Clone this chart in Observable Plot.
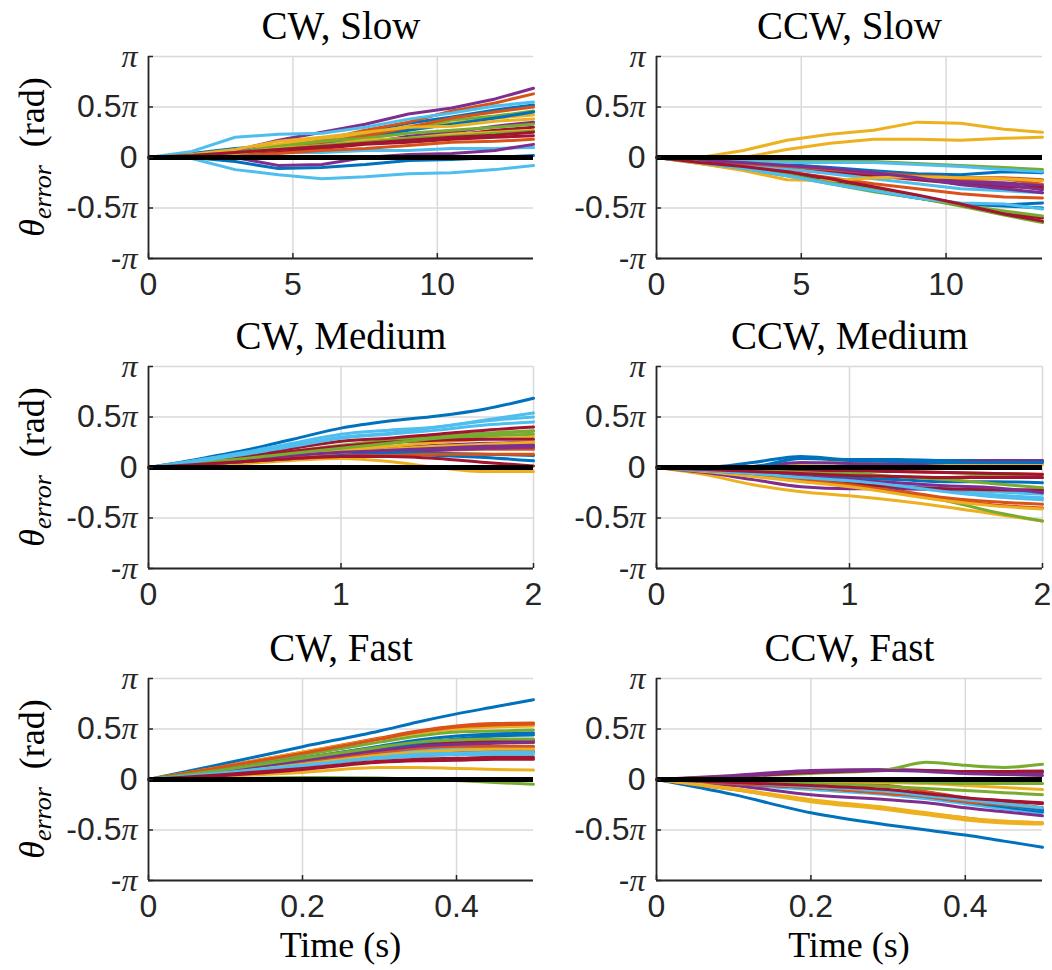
<!DOCTYPE html>
<html><head><meta charset="utf-8">
<script src="https://cdn.jsdelivr.net/npm/d3@7"></script>
<script src="https://cdn.jsdelivr.net/npm/@observablehq/plot@0.6"></script>
<style>
body{margin:0;background:#fff;}
#chart{position:relative;width:1052px;height:970px;overflow:hidden;background:#fff;}
#chart svg{position:absolute;overflow:visible;background:transparent;}
</style></head><body><div id="chart"></div>
<script>
const matlabColors = ["#0072BD","#D95319","#EDB120","#7E2F8E","#77AC30","#4DBEEE","#A2142F"];
const yTicks = [-1, -0.5, 0, 0.5, 1];
const yTickLabels = ["-π", "-0.5π", "0", "0.5π", "π"];
const slowTicks = [0, 5, 10];
const mediumTicks = [0, 1, 2];
const fastTicks = [0, 0.2, 0.4];
const titles = ["CW, Slow", "CCW, Slow", "CW, Medium", "CCW, Medium", "CW, Fast", "CCW, Fast"];

// time samples (s)
const slowTimes = [0, 1.5, 3, 4.5, 6, 7.5, 9, 10.5, 12, 13.33];
const mediumTimes = [0, 0.25, 0.5, 0.75, 1, 1.25, 1.5, 1.75, 2];
const fastTimes = [0, 0.1, 0.2, 0.3, 0.35, 0.4, 0.45, 0.5];

// theta error, in units of pi, one row per run
const cwSlow = [
  [0,0.04,0.09,0.12,0.19,0.25,0.34,0.40,0.47,0.52],
  [0,0.03,0.06,0.12,0.17,0.27,0.35,0.46,0.54,0.63],
  [0,0.02,0.07,0.13,0.19,0.23,0.31,0.34,0.39,0.42],
  [0,0.03,0.07,0.17,0.25,0.33,0.43,0.49,0.58,0.685],
  [0,0.02,0.05,0.11,0.14,0.22,0.29,0.37,0.41,0.46],
  [0,0.06,0.20,0.23,0.24,0.30,0.38,0.44,0.51,0.55],
  [0,0.02,0.04,0.08,0.11,0.15,0.20,0.22,0.27,0.30],
  [0,0.03,0.05,0.10,0.13,0.19,0.27,0.33,0.39,0.45],
  [0,0.02,0.04,0.08,0.15,0.21,0.30,0.39,0.45,0.50],
  [0,0.03,0.08,0.16,0.20,0.25,0.30,0.31,0.36,0.38],
  [0,0.02,0.03,0.07,0.10,0.14,0.21,0.25,0.31,0.35],
  [0,0.01,0.04,0.11,0.16,0.19,0.24,0.27,0.30,0.33],
  [0,0.02,0.03,0.05,0.05,0.07,0.07,0.09,0.09,0.10],
  [0,0.01,0.03,0.06,0.09,0.13,0.15,0.18,0.20,0.215],
  [0,0.00,-0.04,-0.11,-0.10,-0.07,-0.03,-0.02,0.00,0.02],
  [0,0.01,0.02,0.04,0.07,0.09,0.12,0.15,0.16,0.18],
  [0,0.01,0.04,0.09,0.12,0.17,0.19,0.23,0.25,0.27],
  [0,0.01,0.00,-0.08,-0.07,0.00,0.03,0.04,0.07,0.13],
  [0,0.02,0.05,0.08,0.12,0.15,0.19,0.21,0.24,0.26],
  [0,-0.01,-0.12,-0.17,-0.21,-0.19,-0.16,-0.15,-0.12,-0.08],
  [0,0.02,0.05,0.08,0.11,0.14,0.17,0.20,0.22,0.25]
];
const ccwSlow = [
  [0,-0.03,-0.05,-0.07,-0.10,-0.13,-0.16,-0.17,-0.14,-0.15],
  [0,-0.04,-0.08,-0.12,-0.15,-0.18,-0.20,-0.22,-0.21,-0.265],
  [0,0.00,0.07,0.17,0.23,0.27,0.35,0.34,0.28,0.25],
  [0,-0.03,-0.06,-0.09,-0.13,-0.17,-0.21,-0.24,-0.25,-0.28],
  [0,-0.02,-0.03,-0.03,-0.04,-0.04,-0.06,-0.08,-0.10,-0.12],
  [0,-0.02,-0.04,-0.05,-0.05,-0.05,-0.07,-0.09,-0.12,-0.14],
  [0,-0.04,-0.07,-0.10,-0.14,-0.18,-0.22,-0.26,-0.29,-0.30],
  [0,-0.05,-0.10,-0.16,-0.24,-0.32,-0.38,-0.46,-0.48,-0.50],
  [0,-0.04,-0.09,-0.14,-0.20,-0.26,-0.31,-0.36,-0.39,-0.40],
  [0,-0.01,0.00,0.08,0.14,0.18,0.18,0.17,0.19,0.20],
  [0,-0.02,-0.06,-0.09,-0.12,-0.16,-0.20,-0.24,-0.27,-0.32],
  [0,-0.06,-0.12,-0.18,-0.26,-0.34,-0.40,-0.48,-0.57,-0.645],
  [0,-0.03,-0.07,-0.11,-0.16,-0.21,-0.26,-0.31,-0.33,-0.35],
  [0,-0.05,-0.10,-0.17,-0.24,-0.31,-0.39,-0.47,-0.55,-0.60],
  [0,-0.05,-0.11,-0.17,-0.25,-0.33,-0.40,-0.46,-0.47,-0.45],
  [0,-0.03,-0.06,-0.09,-0.12,-0.15,-0.18,-0.20,-0.20,-0.22],
  [0,-0.06,-0.13,-0.22,-0.23,-0.20,-0.19,-0.20,-0.21,-0.23],
  [0,-0.03,-0.05,-0.08,-0.11,-0.15,-0.20,-0.27,-0.31,-0.35],
  [0,-0.05,-0.11,-0.17,-0.25,-0.32,-0.40,-0.47,-0.53,-0.58],
  [0,-0.05,-0.11,-0.18,-0.26,-0.33,-0.40,-0.45,-0.46,-0.51],
  [0,-0.05,-0.09,-0.14,-0.21,-0.29,-0.37,-0.46,-0.56,-0.63]
];
const cwMedium = [
  [0,0.08,0.17,0.28,0.39,0.46,0.51,0.58,0.685],
  [0,0.04,0.08,0.12,0.15,0.18,0.20,0.21,0.215],
  [0,0.02,0.04,0.07,0.09,0.06,0.00,-0.04,-0.04],
  [0,0.04,0.08,0.12,0.16,0.19,0.22,0.24,0.25],
  [0,0.05,0.10,0.16,0.22,0.27,0.31,0.34,0.365],
  [0,0.07,0.15,0.24,0.33,0.37,0.40,0.47,0.54],
  [0,0.06,0.12,0.19,0.26,0.29,0.33,0.37,0.40],
  [0,0.03,0.06,0.09,0.12,0.13,0.12,0.10,0.066],
  [0,0.04,0.07,0.10,0.13,0.15,0.17,0.18,0.18],
  [0,0.03,0.07,0.12,0.17,0.21,0.25,0.28,0.30],
  [0,0.03,0.06,0.09,0.12,0.15,0.17,0.19,0.20],
  [0,0.05,0.10,0.15,0.20,0.24,0.28,0.31,0.33],
  [0,0.07,0.14,0.22,0.30,0.34,0.40,0.46,0.50],
  [0,0.05,0.10,0.16,0.21,0.25,0.27,0.28,0.28],
  [0,0.04,0.08,0.11,0.14,0.15,0.14,0.13,0.12],
  [0,0.03,0.06,0.09,0.11,0.12,0.13,0.13,0.13],
  [0,0.04,0.07,0.11,0.15,0.18,0.21,0.23,0.25],
  [0,0.04,0.08,0.12,0.15,0.17,0.19,0.21,0.22],
  [0,0.05,0.09,0.14,0.19,0.24,0.29,0.33,0.36],
  [0,0.06,0.13,0.21,0.29,0.33,0.37,0.42,0.45],
  [0,0.03,0.06,0.09,0.11,0.11,0.09,0.05,0.016]
];
const ccwMedium = [
  [0,0.00,0.05,0.11,0.08,0.08,0.07,0.07,0.07],
  [0,-0.01,-0.02,-0.03,-0.03,-0.04,-0.05,-0.06,-0.066],
  [0,0.00,0.01,0.04,0.05,0.04,0.03,0.03,0.03],
  [0,0.00,0.01,0.05,0.04,0.03,0.05,0.07,0.066],
  [0,-0.01,-0.02,-0.03,-0.05,-0.09,-0.10,-0.08,-0.10],
  [0,-0.03,-0.07,-0.11,-0.14,-0.18,-0.22,-0.27,-0.30],
  [0,-0.01,-0.02,-0.03,-0.03,-0.04,-0.05,-0.06,-0.07],
  [0,-0.02,-0.04,-0.07,-0.10,-0.12,-0.14,-0.14,-0.15],
  [0,-0.04,-0.08,-0.12,-0.17,-0.23,-0.30,-0.34,-0.365],
  [0,-0.07,-0.17,-0.24,-0.28,-0.33,-0.39,-0.46,-0.53],
  [0,-0.05,-0.12,-0.19,-0.21,-0.21,-0.22,-0.22,-0.22],
  [0,-0.03,-0.06,-0.11,-0.17,-0.24,-0.33,-0.44,-0.53],
  [0,-0.02,-0.05,-0.09,-0.13,-0.17,-0.21,-0.24,-0.265],
  [0,-0.03,-0.07,-0.12,-0.16,-0.19,-0.21,-0.22,-0.23],
  [0,0.00,0.01,0.09,0.07,0.06,0.05,0.05,0.05],
  [0,-0.03,-0.07,-0.12,-0.17,-0.24,-0.32,-0.37,-0.40],
  [0,-0.04,-0.09,-0.14,-0.19,-0.26,-0.33,-0.38,-0.41],
  [0,-0.03,-0.06,-0.09,-0.12,-0.15,-0.18,-0.20,-0.25],
  [0,-0.01,-0.03,-0.05,-0.07,-0.09,-0.12,-0.16,-0.20],
  [0,-0.03,-0.06,-0.10,-0.13,-0.18,-0.24,-0.29,-0.32],
  [0,-0.02,-0.04,-0.06,-0.08,-0.09,-0.10,-0.10,-0.10]
];
const cwFast = [
  [0,0.16,0.325,0.48,0.57,0.65,0.72,0.79],
  [0,0.135,0.27,0.41,0.48,0.53,0.555,0.56],
  [0,0.13,0.27,0.40,0.46,0.50,0.52,0.53],
  [0,0.10,0.21,0.32,0.36,0.38,0.39,0.39],
  [0,0.12,0.24,0.37,0.43,0.47,0.48,0.49],
  [0,0.08,0.17,0.26,0.29,0.31,0.32,0.32],
  [0,0.09,0.19,0.30,0.34,0.36,0.37,0.37],
  [0,0.10,0.21,0.33,0.39,0.43,0.45,0.46],
  [0,0.08,0.17,0.27,0.31,0.33,0.33,0.33],
  [0,0.03,0.07,0.12,0.12,0.11,0.10,0.093],
  [0,0.07,0.15,0.23,0.26,0.27,0.28,0.28],
  [0,0.005,0.02,0.015,0.005,-0.01,-0.03,-0.046],
  [0,0.06,0.13,0.21,0.23,0.245,0.25,0.25],
  [0,0.04,0.10,0.17,0.185,0.19,0.20,0.20],
  [0,0.09,0.19,0.30,0.36,0.40,0.43,0.44],
  [0,0.13,0.26,0.40,0.47,0.52,0.54,0.55],
  [0,0.07,0.15,0.24,0.27,0.29,0.30,0.30],
  [0,0.09,0.19,0.29,0.33,0.35,0.36,0.37],
  [0,0.10,0.21,0.32,0.37,0.39,0.40,0.40],
  [0,0.07,0.14,0.22,0.25,0.26,0.27,0.27],
  [0,0.05,0.11,0.18,0.20,0.21,0.22,0.22]
];
const ccwFast = [
  [0,-0.15,-0.33,-0.45,-0.50,-0.55,-0.61,-0.67],
  [0,-0.10,-0.21,-0.29,-0.34,-0.38,-0.42,-0.43],
  [0,-0.10,-0.22,-0.30,-0.35,-0.40,-0.43,-0.44],
  [0,0.04,0.09,0.10,0.09,0.07,0.065,0.067],
  [0,0.03,0.06,0.10,0.17,0.14,0.12,0.15],
  [0,-0.05,-0.10,-0.15,-0.19,-0.24,-0.29,-0.33],
  [0,0.03,0.07,0.09,0.09,0.08,0.08,0.083],
  [0,-0.04,-0.08,-0.13,-0.17,-0.22,-0.27,-0.32],
  [0,-0.01,-0.03,-0.06,-0.12,-0.18,-0.23,-0.28],
  [0,-0.01,-0.02,-0.03,-0.04,-0.06,-0.08,-0.10],
  [0,-0.06,-0.15,-0.20,-0.23,-0.28,-0.32,-0.36],
  [0,0.00,-0.01,-0.02,-0.03,-0.04,-0.04,-0.04],
  [0,-0.04,-0.09,-0.13,-0.17,-0.20,-0.25,-0.30],
  [0,-0.04,-0.08,-0.13,-0.16,-0.19,-0.21,-0.23],
  [0,-0.03,-0.06,-0.11,-0.15,-0.20,-0.25,-0.30],
  [0,-0.04,-0.08,-0.14,-0.17,-0.22,-0.25,-0.28],
  [0,-0.09,-0.20,-0.28,-0.33,-0.38,-0.41,-0.43],
  [0,0.03,0.08,0.09,0.08,0.06,0.05,0.04],
  [0,-0.02,-0.04,-0.07,-0.09,-0.11,-0.13,-0.15],
  [0,-0.03,-0.07,-0.12,-0.16,-0.20,-0.24,-0.28],
  [0,-0.03,-0.06,-0.10,-0.14,-0.18,-0.21,-0.24]
];

const panels = [
  {title: titles[0], times: slowTimes, runs: cwSlow, xmax: 13.33, ticks: slowTicks, col: 0, row: 0, curve: "linear"},
  {title: titles[1], times: slowTimes, runs: ccwSlow, xmax: 13.33, ticks: slowTicks, col: 1, row: 0, curve: "linear"},
  {title: titles[2], times: mediumTimes, runs: cwMedium, xmax: 2, ticks: mediumTicks, col: 0, row: 1, curve: "monotone-x"},
  {title: titles[3], times: mediumTimes, runs: ccwMedium, xmax: 2, ticks: mediumTicks, col: 1, row: 1, curve: "monotone-x"},
  {title: titles[4], times: fastTimes, runs: cwFast, xmax: 0.5, ticks: fastTicks, col: 0, row: 2, curve: "monotone-x"},
  {title: titles[5], times: fastTimes, runs: ccwFast, xmax: 0.5, ticks: fastTicks, col: 1, row: 2, curve: "monotone-x"}
];

const chart = document.getElementById("chart");
const colLeft = [0, 508], colWidth = [543, 544];
const rowTop = [0, 310, 622];
const mTop = 56, mLeft = 148, mRight = 10, plotH = 202;
const axisColor = "#262626";
const sans = "Liberation Sans, Arial, Helvetica, sans-serif";
const serif = "Liberation Serif, Times New Roman, serif";

panels.forEach(p => {
  const W = colWidth[p.col];
  const mBottom = p.row === 2 ? 90 : 50;
  const H = mTop + plotH + mBottom;
  const plotW = W - mLeft - mRight;
  const data = [];
  p.runs.forEach((vals, run) => vals.forEach((v, i) => data.push({run, t: p.times[i], v})));
  const svg = Plot.plot({
    width: W, height: H,
    marginTop: mTop, marginLeft: mLeft, marginRight: mRight, marginBottom: mBottom,
    style: {fontFamily: sans, fontSize: "32px", color: axisColor, background: "transparent", overflow: "visible"},
    x: {domain: [0, p.xmax], axis: null},
    y: {domain: [-1, 1], axis: null},
    color: {type: "ordinal", domain: d3.range(7), range: matlabColors},
    marks: [
      Plot.gridX(p.ticks, {stroke: "#d9d9d9", strokeOpacity: 1, strokeWidth: 1.5}),
      Plot.gridY(yTicks, {stroke: "#d9d9d9", strokeOpacity: 1, strokeWidth: 1.5}),
      Plot.line(data, {x: "t", y: "v", z: "run", stroke: d => d.run % 7, strokeWidth: 3, curve: p.curve}),
      Plot.ruleY([0], {stroke: "black", strokeWidth: 5}),
      Plot.ruleX([0], {stroke: axisColor, strokeWidth: 1.8}),
      Plot.ruleY([-1], {stroke: axisColor, strokeWidth: 1.8}),
      Plot.tickY(yTicks, {y: d => d, insetRight: plotW - 5, stroke: axisColor, strokeWidth: 1.5}),
      Plot.tickX(p.ticks, {x: d => d, insetTop: plotH - 5, stroke: axisColor, strokeWidth: 1.5}),
      Plot.axisY(yTicks, {tickSize: 0, tickPadding: 11, label: null, tickFormat: d => yTickLabels[yTicks.indexOf(d)], fontSize: 32, fill: axisColor}),
      Plot.axisX(p.ticks, {tickSize: 0, tickPadding: 14, label: null, tickFormat: d => String(d), fontSize: 32, fill: axisColor}),
      Plot.text([p.title], {text: d => d, frameAnchor: "top", lineAnchor: "bottom", dy: -18, fontSize: 39, fontFamily: serif, fill: "black"})
    ]
  });
  svg.style.left = colLeft[p.col] + "px";
  svg.style.top = rowTop[p.row] + "px";
  // π in serif italic
  svg.querySelectorAll('g[aria-label="y-axis tick label"] text').forEach(t => {
    const s = t.textContent;
    if (s.includes("π")) {
      const pre = s.replace("π", "");
      t.textContent = pre;
      const ts = document.createElementNS("http://www.w3.org/2000/svg", "tspan");
      ts.setAttribute("font-family", serif);
      ts.setAttribute("font-style", "italic");
      ts.textContent = "π";
      t.appendChild(ts);
    }
  });
  const sel = d3.select(svg);
  if (p.col === 0) {
    const lab = sel.append("text")
      .attr("transform", `translate(44,${mTop + plotH / 2}) rotate(-90)`)
      .attr("text-anchor", "middle").attr("font-family", serif).attr("font-size", 36).attr("fill", "black");
    lab.append("tspan").attr("font-style", "italic").text("θ");
    lab.append("tspan").attr("font-style", "italic").attr("font-size", 26).attr("dy", 7).text("error");
    lab.append("tspan").attr("dy", -7).text("\u2002(rad)");
  }
  if (p.row === 2) {
    sel.append("text")
      .attr("x", mLeft + plotW / 2).attr("y", 335)
      .attr("text-anchor", "middle").attr("font-family", serif).attr("font-size", 36).attr("fill", "black")
      .text("Time (s)");
  }
  chart.appendChild(svg);
});
</script></body></html>
